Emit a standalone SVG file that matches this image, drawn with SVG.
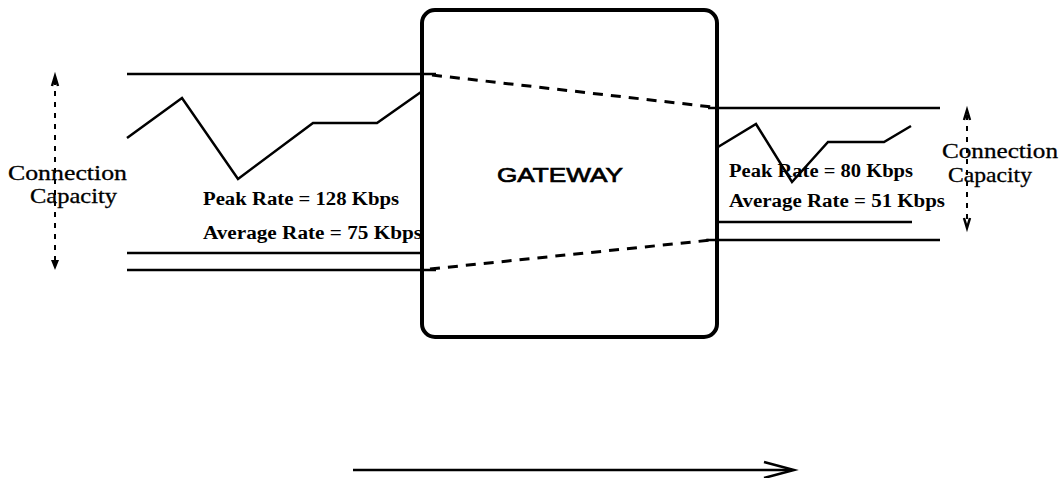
<svg xmlns="http://www.w3.org/2000/svg" width="1063" height="478" viewBox="0 0 1063 478">
<style>
.ln{stroke:#000;stroke-width:2.5;fill:none}
.dash{stroke:#000;stroke-width:3;fill:none;stroke-dasharray:10 8}
.dot{stroke:#000;stroke-width:2;fill:none;stroke-dasharray:5 6}
.rate{font-family:"Liberation Serif",serif;font-weight:bold;font-size:18px;fill:#000}
.cap{font-family:"Liberation Serif",serif;font-size:21px;fill:#000;stroke:#000;stroke-width:0.3}
.gw{font-family:"Liberation Sans",sans-serif;font-size:21px;fill:#000;stroke:#000;stroke-width:0.7}
</style>
<rect width="1063" height="478" fill="#fff"/>
<g id="connectors">
  <line class="ln" x1="127" y1="74" x2="436" y2="74"/>
  <line class="ln" x1="127" y1="253" x2="422" y2="253"/>
  <line class="ln" x1="127" y1="270" x2="436" y2="270"/>
  <polyline class="ln" points="127,138 182,98 238,179 313,123 377,123 421,92"/>
  <line class="ln" x1="708" y1="108" x2="940" y2="108"/>
  <line class="ln" x1="717" y1="222" x2="912" y2="222"/>
  <line class="ln" x1="706" y1="240" x2="940" y2="240"/>
  <polyline class="ln" points="718,147 756,124 792,182 828,142 884,142 911,126"/>
  <line class="dash" x1="432" y1="75" x2="712" y2="107"/>
  <line class="dash" x1="430" y1="269" x2="712" y2="240"/>
  <line class="dot" x1="55" y1="80" x2="55" y2="264"/>
  <polyline class="ln" stroke-width="2" points="52,86 55,76 58,86"/>
  <polygon points="51,260 59,260 55,270" fill="#000"/>
  <line class="dot" x1="967" y1="115" x2="967" y2="222"/>
  <polyline class="ln" stroke-width="2" points="964,120 967,110 970,120"/>
  <polyline class="ln" stroke-width="2" points="964,218 967,228 970,218"/>
  <line class="ln" x1="353" y1="470" x2="792" y2="470"/>
  <polyline class="ln" stroke-width="3" points="764,462 794,470 764,478"/>
</g>
<g id="gateway">
  <rect x="422" y="10" width="295" height="327" rx="13" ry="13" fill="none" stroke="#000" stroke-width="4"/>
  <text class="gw" x="497" y="182" textLength="126" lengthAdjust="spacingAndGlyphs">GATEWAY</text>
</g>
<g id="left-labels">
  <text class="cap" x="8" y="180" textLength="119" lengthAdjust="spacingAndGlyphs">Connection</text>
  <text class="cap" x="30" y="203" textLength="87" lengthAdjust="spacingAndGlyphs">Capacity</text>
  <text class="rate" x="203" y="205" textLength="196" lengthAdjust="spacingAndGlyphs">Peak Rate = 128 Kbps</text>
  <text class="rate" x="203" y="239" textLength="219" lengthAdjust="spacingAndGlyphs">Average Rate = 75 Kbps</text>
</g>
<g id="right-labels">
  <text class="cap" x="942" y="158" textLength="116" lengthAdjust="spacingAndGlyphs">Connection</text>
  <text class="cap" x="948" y="182" textLength="84" lengthAdjust="spacingAndGlyphs">Capacity</text>
  <text class="rate" x="729" y="177" textLength="184" lengthAdjust="spacingAndGlyphs">Peak Rate = 80 Kbps</text>
  <text class="rate" x="729" y="207" textLength="216" lengthAdjust="spacingAndGlyphs">Average Rate = 51 Kbps</text>
</g>
</svg>
